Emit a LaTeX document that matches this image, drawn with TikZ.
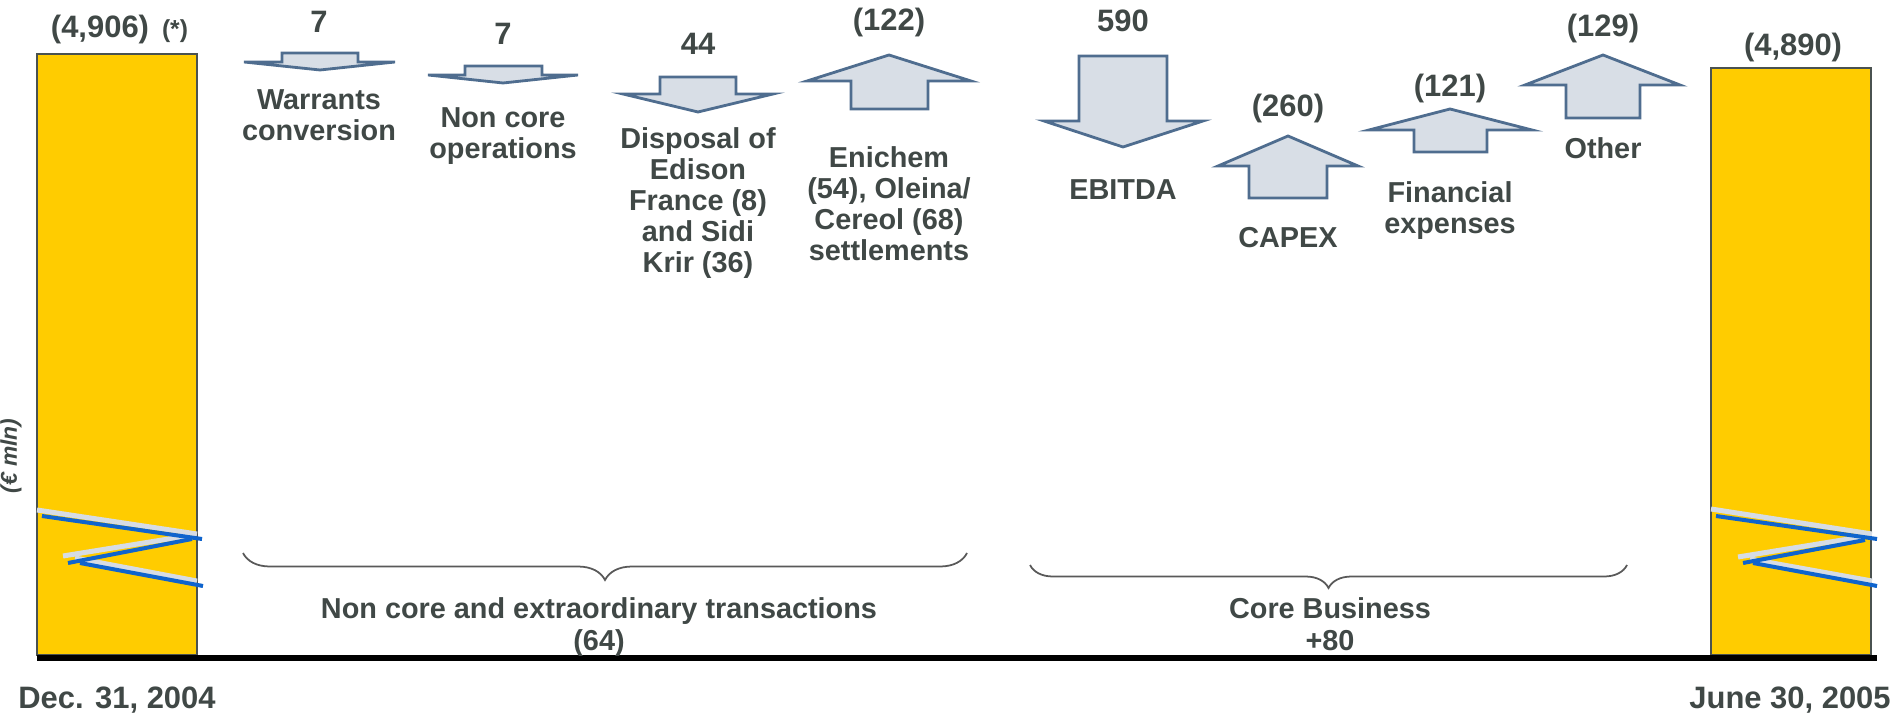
\documentclass[tikz,border=0pt]{standalone}
\usepackage{fontspec}
\setmainfont{Liberation Sans}
\usetikzlibrary{decorations.pathreplacing}

\definecolor{bargold}{RGB}{255,204,0}
\definecolor{barline}{RGB}{74,82,80}
\definecolor{arrowfill}{RGB}{216,222,230}
\definecolor{arrowline}{RGB}{79,109,143}
\definecolor{txtgray}{RGB}{64,72,70}
\definecolor{breakblue}{RGB}{15,100,205}
\definecolor{breakgray}{RGB}{214,220,228}

\begin{document}
\begin{tikzpicture}
[x=0.01cm, y=-0.01cm,
bar/.style={draw=barline, fill=bargold, line width=0.7pt},
flow/.style={draw=arrowline, fill=arrowfill, line width=0.8pt},
val/.style={anchor=base, inner sep=0pt, text=txtgray, font=\fontsize{8.8}{10}\selectfont\bfseries},
lbl/.style={anchor=north, inner sep=0pt, align=center, text=txtgray, font=\fontsize{8.2}{8.8}\selectfont\bfseries},
grp/.style={anchor=north, inner sep=0pt, align=center, text=txtgray, font=\fontsize{8.2}{9.1}\selectfont\bfseries},
curly/.style={decorate, draw=black!65, line width=0.5pt},
brkgray/.style={draw=breakgray, line width=0.05cm},
brkblue/.style={draw=breakblue, line width=0.04cm}]

\useasboundingbox (0,0) rectangle (1901,716);

% bars
\draw[bar] (37,54) rectangle (197,655);
\draw[bar] (1711,68) rectangle (1871,655);

% break marks
\draw[brkgray] (37,510) -- (197,534);
\draw[brkgray] (187,536) -- (63,556);
\draw[brkgray] (75,558) -- (197,581);
\draw[brkblue] (42,516) -- (202,539);
\draw[brkblue] (192,539) -- (68,563);
\draw[brkblue] (80,563) -- (203,586);

\draw[brkgray] (1711,509) -- (1872,534);
\draw[brkgray] (1867,536) -- (1738,557);
\draw[brkgray] (1750,559) -- (1872,581);
\draw[brkblue] (1716,516) -- (1877,539);
\draw[brkblue] (1865,540) -- (1743,563);
\draw[brkblue] (1753,563) -- (1877,586);

\draw[black, line width=0.065cm] (37,658) -- (1877,658);

% arrows down
\draw[flow] (282,53) -- (358,53) -- (358,62) -- (395,62) -- (320,70) -- (244,62) -- (282,62) -- cycle;
\draw[flow] (465,66) -- (542,66) -- (542,75) -- (578,75) -- (503,83) -- (428,75) -- (465,75) -- cycle;
\draw[flow] (660,77) -- (736,77) -- (736,94) -- (773,94) -- (698,112) -- (623,94) -- (660,94) -- cycle;
\draw[flow] (1079,56) -- (1167,56) -- (1167,121) -- (1203,121) -- (1123,147) -- (1044,121) -- (1079,121) -- cycle;
% arrows up
\draw[flow] (889,55) -- (971,81) -- (928,81) -- (928,109) -- (851,109) -- (851,81) -- (807,81) -- cycle;
\draw[flow] (1288,136) -- (1358,166) -- (1327,166) -- (1327,198) -- (1249,198) -- (1249,166) -- (1218,166) -- cycle;
\draw[flow] (1450,109) -- (1532,130) -- (1487,130) -- (1487,152) -- (1414,152) -- (1414,130) -- (1369,130) -- cycle;
\draw[flow] (1603,55) -- (1680,85) -- (1640,85) -- (1640,118) -- (1566,118) -- (1566,85) -- (1525,85) -- cycle;

% values
\node[val] (start) at (100,38) {(4,906)};
\node[val, font=\fontsize{7}{8}\selectfont\bfseries] (note) at (175,38) {(*)};
\node[val] (v1) at (319,33) {7};
\node[val] (v2) at (503,45) {7};
\node[val] (v3) at (698,55) {44};
\node[val] (v4) at (889,31) {(122)};
\node[val] (v5) at (1123,32) {590};
\node[val] (v6) at (1288,117) {(260)};
\node[val] (v7) at (1450,97) {(121)};
\node[val] (v8) at (1603,37) {(129)};
\node[val] (finish) at (1793,56) {(4,890)};

% labels
\node[lbl] (l1) at (319,89) {Warrants\\conversion};
\node[lbl] (l2) at (503,107) {Non core\\operations};
\node[lbl] (l3) at (698,127) {Disposal of\\Edison\\France (8)\\and Sidi\\Krir (36)};
\node[lbl] (l4) at (889,146) {Enichem\\(54), Oleina/\\Cereol (68)\\settlements};
\node[lbl] (l5) at (1123,179) {EBITDA};
\node[lbl] (l6) at (1288,227) {CAPEX};
\node[lbl] (l7) at (1450,181) {Financial\\expenses};
\node[lbl] (l8) at (1603,137) {Other};

% groups
\draw[curly, decoration={brace, mirror, amplitude=0.27cm}] (243,553) -- (967,553);
\draw[curly, decoration={brace, mirror, amplitude=0.23cm}] (1030,565) -- (1627,565);
\node[grp] (noncore) at (599,597) {Non core and extraordinary transactions\\(64)};
\node[grp] (core) at (1330,597) {Core Business\\+80};

% dates and unit
\node[val] (d0) at (117,708) {Dec. 31, 2004};
\node[val] (d1) at (1790,708) {June 30, 2005};
\node[rotate=90, inner sep=0pt, text=txtgray, font=\fontsize{6.5}{7}\selectfont\bfseries\itshape] (unit) at (11,456) {(€ mln)};

\end{tikzpicture}
\end{document}
